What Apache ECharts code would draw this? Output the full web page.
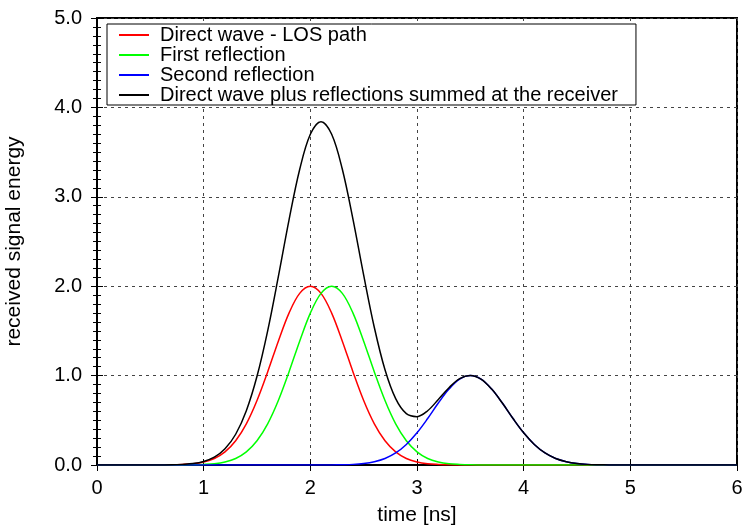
<!DOCTYPE html>
<html>
<head>
<meta charset="utf-8">
<script src="https://cdn.jsdelivr.net/npm/echarts@6/dist/echarts.min.js"></script>
<style>
  html, body { margin: 0; padding: 0; background: #fff; }
  #chart { width: 743px; height: 532px; }
</style>
</head>
<body>
<div id="chart"></div>
<script>
// sampled time axis [ns]
var timeNs = [0.0, 0.1, 0.2, 0.3, 0.4, 0.5, 0.6, 0.7, 0.8, 0.9,
  1.0, 1.1, 1.2, 1.3, 1.4, 1.5, 1.6, 1.7, 1.8, 1.9,
  2.0, 2.1, 2.2, 2.3, 2.4, 2.5, 2.6, 2.7, 2.8, 2.9,
  3.0, 3.1, 3.2, 3.3, 3.4, 3.5, 3.6, 3.7, 3.8, 3.9,
  4.0, 4.1, 4.2, 4.3, 4.4, 4.5, 4.6, 4.7, 4.8, 4.9,
  5.0, 5.1, 5.2, 5.3, 5.4, 5.5, 5.6, 5.7, 5.8, 5.9, 6.0];

var directWave = [0, 0, 0, 0, 0, 0, 0.001, 0.002, 0.006, 0.014,
  0.034, 0.073, 0.147, 0.271, 0.460, 0.721, 1.041, 1.385, 1.699, 1.920,
  2.0, 1.920, 1.699, 1.385, 1.041, 0.721, 0.460, 0.271, 0.147, 0.073,
  0.034, 0.014, 0.006, 0.002, 0.001, 0, 0, 0, 0, 0,
  0, 0, 0, 0, 0, 0, 0, 0, 0, 0,
  0, 0, 0, 0, 0, 0, 0, 0, 0, 0, 0];

var firstReflection = [0, 0, 0, 0, 0, 0, 0, 0, 0.001, 0.002,
  0.006, 0.014, 0.034, 0.073, 0.147, 0.271, 0.460, 0.721, 1.041, 1.385,
  1.699, 1.920, 2.0, 1.920, 1.699, 1.385, 1.041, 0.721, 0.460, 0.271,
  0.147, 0.073, 0.034, 0.014, 0.006, 0.002, 0.001, 0, 0, 0,
  0, 0, 0, 0, 0, 0, 0, 0, 0, 0,
  0, 0, 0, 0, 0, 0, 0, 0, 0, 0, 0];

var secondReflection = [0, 0, 0, 0, 0, 0, 0, 0, 0, 0,
  0, 0, 0, 0, 0, 0, 0, 0, 0, 0,
  0, 0, 0.001, 0.003, 0.007, 0.017, 0.037, 0.073, 0.135, 0.230,
  0.360, 0.520, 0.693, 0.849, 0.960, 1.0, 0.960, 0.849, 0.693, 0.520,
  0.360, 0.230, 0.135, 0.073, 0.037, 0.017, 0.007, 0.003, 0.001, 0,
  0, 0, 0, 0, 0, 0, 0, 0, 0, 0, 0];

var summed = [0, 0, 0, 0, 0, 0, 0.001, 0.002, 0.007, 0.016,
  0.040, 0.087, 0.181, 0.344, 0.607, 0.992, 1.501, 2.106, 2.740, 3.305,
  3.699, 3.840, 3.700, 3.308, 2.747, 2.123, 1.538, 1.065, 0.742, 0.574,
  0.541, 0.607, 0.733, 0.865, 0.967, 1.002, 0.961, 0.849, 0.693, 0.520,
  0.360, 0.230, 0.135, 0.073, 0.037, 0.017, 0.007, 0.003, 0.001, 0,
  0, 0, 0, 0, 0, 0, 0, 0, 0, 0, 0];

var seriesNames = ['Direct wave - LOS path', 'First reflection', 'Second reflection',
  'Direct wave plus reflections summed at the receiver'];
var seriesColors = ['#ff0000', '#00ff00', '#0000ff', '#000000'];
var seriesValues = [directWave, firstReflection, secondReflection, summed];

var font = 'Liberation Sans, Arial, sans-serif';

function pairs(ys) {
  return timeNs.map(function (x, i) { return [x, ys[i]]; });
}

var chart = echarts.init(document.getElementById('chart'));

var gridLine = { show: true, lineStyle: { color: '#444', width: 1, type: [3, 4] } };

chart.setOption({
  animation: false,
  backgroundColor: '#fff',
  grid: {
    left: 97, right: 6, top: 18, bottom: 67,
    outerBoundsMode: 'none',
    containLabel: false,
    show: true, borderColor: '#000', borderWidth: 2, backgroundColor: 'transparent'
  },
  legend: {
    orient: 'vertical',
    left: 107, top: 24,
    padding: [1, 18, 0, 12],
    backgroundColor: '#fff',
    borderColor: '#000',
    borderWidth: 1,
    borderRadius: 0,
    itemWidth: 30,
    itemHeight: 2,
    itemGap: 0,
    icon: 'rect',
    textStyle: { fontFamily: font, fontSize: 20, lineHeight: 18.5, color: '#000', padding: [0, 0, 0, 6] },
    data: seriesNames
  },
  xAxis: [{
    type: 'value', min: 0, max: 6, interval: 1,
    name: 'time [ns]', nameLocation: 'middle', nameGap: 40,
    nameTextStyle: { fontFamily: font, fontSize: 21, color: '#000' },
    axisLine: { show: true, onZero: false, lineStyle: { color: '#000', width: 2 } },
    axisTick: { show: true, inside: true, length: 6, lineStyle: { color: '#000' } },
    axisLabel: { fontFamily: font, fontSize: 20, color: '#000', margin: 13 },
    splitLine: gridLine
  }, {
    type: 'value', min: 0, max: 6, interval: 1, position: 'top',
    axisLine: { show: false },
    axisTick: { show: true, inside: true, length: 6, lineStyle: { color: '#000' } },
    axisLabel: { show: false },
    splitLine: { show: false }
  }],
  yAxis: [{
    type: 'value', min: 0, max: 5, interval: 1,
    name: 'received signal energy', nameLocation: 'middle', nameGap: 72,
    nameTextStyle: { fontFamily: font, fontSize: 21, color: '#000' },
    axisLine: { show: true, onZero: false, lineStyle: { color: '#000', width: 2 } },
    axisTick: { show: true, inside: true, length: 6, lineStyle: { color: '#000' } },
    minorTick: { show: true, splitNumber: 10, length: 4, lineStyle: { color: '#000' } },
    axisLabel: {
      fontFamily: font, fontSize: 20, color: '#000', margin: 15,
      formatter: function (v) { return v.toFixed(1); }
    },
    splitLine: gridLine
  }, {
    type: 'value', min: 0, max: 5, interval: 1, position: 'right',
    axisLine: { show: false },
    axisTick: { show: true, inside: true, length: 6, lineStyle: { color: '#000' } },
    minorTick: { show: true, splitNumber: 10, length: 4, lineStyle: { color: '#000' } },
    axisLabel: { show: false },
    splitLine: { show: false }
  }],
  series: seriesNames.map(function (name, k) {
    return {
      name: name,
      type: 'line',
      smooth: 0.35,
      symbol: 'none',
      color: seriesColors[k],
      lineStyle: { width: 1.5, color: seriesColors[k] },
      data: pairs(seriesValues[k])
    };
  })
});
</script>
</body>
</html>
